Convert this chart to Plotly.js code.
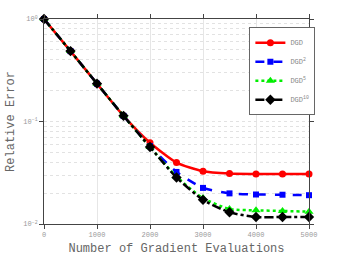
<!DOCTYPE html>
<html>
<head>
<meta charset="utf-8">
<script src="https://cdn.plot.ly/plotly-3.0.1.min.js"></script>
<style>html,body{margin:0;padding:0;background:#fff}#chart{width:341px;height:256px}</style>
</head>
<body>
<div id="chart"></div>
<script>
const evals = [0, 500, 1000, 1500, 2000, 2500, 3000, 3500, 4000, 4500, 5000];
const dgd1  = [1.0, 0.486, 0.234, 0.1135, 0.062, 0.0397, 0.0327, 0.0311, 0.0308, 0.0308, 0.0308];
const dgd2  = [1.0, 0.486, 0.234, 0.1135, 0.0575, 0.0322, 0.0225, 0.0199, 0.0194, 0.0193, 0.0191];
const dgd5  = [1.0, 0.486, 0.234, 0.1135, 0.0565, 0.029, 0.0179, 0.0140, 0.0136, 0.0134, 0.0132];
const dgd10 = [1.0, 0.486, 0.234, 0.1135, 0.0563, 0.0284, 0.0172, 0.0130, 0.0117, 0.0117, 0.0117];
const names = ['DGD', 'DGD<sup>2</sup>', 'DGD<sup>5</sup>', 'DGD<sup>10</sup>'];
const yTickVals = [0.01, 0.1, 1];
const yTickText = ['10<sup>\u22122</sup>', '10<sup>\u22121</sup>', '10<sup>0</sup>'];
const xTickVals = [0, 1000, 2000, 3000, 4000, 5000];

const styles = [
  {color: '#ff0000', dash: 'solid', symbol: 'circle', size: 7},
  {color: '#0000ff', dash: 'dash', symbol: 'square', size: 6},
  {color: '#00ee00', dash: 'dot', symbol: 'triangle-up', size: 8},
  {color: '#000000', dash: 'dashdot', symbol: 'diamond', size: 8}
];
const series = [dgd1, dgd2, dgd5, dgd10];
const traces = series.map((s, i) => ({
  x: evals, y: s, name: names[i], type: 'scatter', mode: 'lines+markers',
  line: {color: styles[i].color, dash: styles[i].dash, width: 2.5, shape: 'spline', smoothing: 0.6},
  marker: {color: styles[i].color, symbol: styles[i].symbol, size: styles[i].size},
  cliponaxis: false
}));

const mono = 'Liberation Mono, DejaVu Sans Mono, monospace';
const layout = {
  width: 341, height: 256,
  margin: {l: 44, r: 32, t: 19, b: 31.5, pad: 0},
  paper_bgcolor: '#fff', plot_bgcolor: '#fff',
  font: {family: mono, color: '#999', size: 7},
  showlegend: true,
  legend: {x: 0.775, y: 0.96, xanchor: 'left', yanchor: 'top', bgcolor: '#fff',
           bordercolor: '#666', borderwidth: 1, font: {family: mono, size: 7, color: '#888'},
           tracegroupgap: 0, itemwidth: 30},
  xaxis: {
    range: [0, 5000], tickvals: xTickVals, ticks: 'outside', ticklen: 4, tickcolor: '#444',
    showline: true, linecolor: '#444', linewidth: 1, mirror: 'ticks',
    showgrid: true, gridcolor: '#e6e6e6', gridwidth: 1, zeroline: false,
    tickfont: {family: mono, size: 7, color: '#999'},
    title: {text: 'Number of Gradient Evaluations', font: {family: mono, size: 12, color: '#666'}, standoff: 7}
  },
  yaxis: {
    type: 'log', range: [-2, 0], tickvals: yTickVals, ticktext: yTickText,
    ticks: 'outside', ticklen: 4, tickcolor: '#444',
    showline: true, linecolor: '#444', linewidth: 1, mirror: 'ticks',
    showgrid: true, gridcolor: '#e2e2e2', griddash: 'dot', zeroline: false,
    minor: {dtick: 'D1', showgrid: true, gridcolor: '#e2e2e2', griddash: 'dot', ticks: ''},
    tickfont: {family: mono, size: 7, color: '#999'},
    title: {text: 'Relative Error', font: {family: mono, size: 12, color: '#666'}, standoff: 6}
  }
};
Plotly.newPlot('chart', traces, layout, {staticPlot: true, displayModeBar: false});
</script>
</body>
</html>
